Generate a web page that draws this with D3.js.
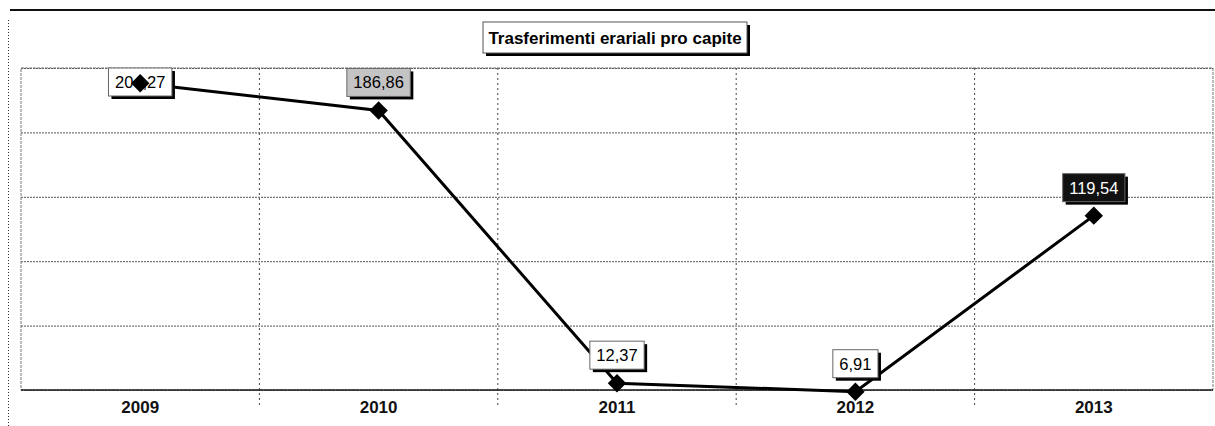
<!DOCTYPE html>
<html>
<head>
<meta charset="utf-8">
<script src="https://cdn.jsdelivr.net/npm/d3@7"></script>
<style>
  body { margin: 0; background: #fff; }
  text { font-family: "Liberation Sans", Arial, sans-serif; }
</style>
</head>
<body>
<div id="chart"></div>
<script>
// data
var years = ["2009", "2010", "2011", "2012", "2013"];
var values = [204.27, 186.86, 12.37, 6.91, 119.54];
var valueLabels = ["204,27", "186,86", "12,37", "6,91", "119,54"];
var chartTitle = "Trasferimenti erariali pro capite";
// axis range and the (hidden) gridline values
var yDomain = [8, 214];
var gridValues = [8, 49.2, 90.4, 131.6, 172.8, 214];

var W = 1215, H = 426;
var margin = {top: 68, right: 2, bottom: 36, left: 21},
    width = W - margin.left - margin.right,
    height = H - margin.top - margin.bottom;

var svg = d3.select("#chart")
  .append("svg")
    .attr("width", W)
    .attr("height", H);

// scan frame: heavy top rule and dotted left edge
svg.append("line")
  .attr("x1", 10).attr("x2", W).attr("y1", 10).attr("y2", 10)
  .style("stroke", "#111").style("stroke-width", 2);
svg.append("line")
  .attr("x1", 8.5).attr("x2", 8.5).attr("y1", 20).attr("y2", H)
  .style("stroke", "#333").style("stroke-width", 1)
  .style("stroke-dasharray", "1 2");

// title box with shadow
var tb = {x: 483, y: 22, w: 264, h: 31};
svg.append("rect")
  .attr("x", tb.x + 3).attr("y", tb.y + 3)
  .attr("width", tb.w).attr("height", tb.h)
  .attr("fill", "#000");
svg.append("rect")
  .attr("x", tb.x).attr("y", tb.y)
  .attr("width", tb.w).attr("height", tb.h)
  .attr("fill", "#fff").attr("stroke", "#555").attr("stroke-width", 1);
svg.append("text")
  .attr("x", tb.x + tb.w / 2).attr("y", tb.y + tb.h / 2 + 6)
  .attr("text-anchor", "middle")
  .attr("font-size", 17).attr("font-weight", "bold")
  .text(chartTitle);

var g = svg.append("g")
  .attr("transform", "translate(" + margin.left + "," + margin.top + ")");

var x = d3.scaleBand().domain(years).range([0, width]);
var y = d3.scaleLinear().domain(yDomain).range([height, 0]);

// horizontal gridlines
g.append("g")
  .call(d3.axisLeft(y).tickValues(gridValues).tickSize(-width).tickFormat(""))
  .call(function(a) {
    a.select(".domain").remove();
    a.selectAll(".tick line")
      .attr("stroke", "#555")
      .style("stroke-dasharray", "2 1");
  });

// vertical gridlines at category boundaries
g.selectAll(".vgrid")
  .data(years.slice(1))
  .enter().append("line")
    .attr("class", "vgrid")
    .attr("x1", function(d) { return x(d); })
    .attr("x2", function(d) { return x(d); })
    .attr("y1", 0)
    .attr("y2", height + 16)
    .style("stroke", "#444")
    .style("stroke-dasharray", "2 3");

// plot border
g.append("rect")
  .attr("width", width).attr("height", height)
  .attr("fill", "none")
  .attr("stroke", "#777").attr("stroke-width", 1)
  .style("stroke-dasharray", "3 1");
g.append("line")
  .attr("x1", 0).attr("x2", width).attr("y1", height).attr("y2", height)
  .style("stroke", "#222").style("stroke-width", 1.5);

// x axis labels
var xAxis = g.append("g")
  .attr("transform", "translate(0," + height + ")")
  .call(d3.axisBottom(x).tickSize(0).tickPadding(11));
xAxis.select(".domain").remove();
xAxis.selectAll(".tick text")
  .attr("font-size", 17)
  .attr("font-weight", "bold")
  .attr("font-family", "'Liberation Sans', Arial, sans-serif")
  .attr("fill", "#111");

var cx = function(d, i) { return x(years[i]) + x.bandwidth() / 2; };

// the line
g.append("path")
  .datum(values)
  .attr("fill", "none")
  .attr("stroke", "#000")
  .attr("stroke-width", 3)
  .attr("d", d3.line()
    .x(cx)
    .y(function(d) { return y(d); }));

// data labels (boxes with drop shadow)
var boxH = 28;
var labels = g.selectAll(".lbl")
  .data(values)
  .enter().append("g")
    .attr("class", "lbl")
    .attr("transform", function(d, i) {
      var cy = Math.max(y(d) - 28, boxH / 2);
      return "translate(" + cx(d, i) + "," + cy + ")";
    });

labels.each(function(d, i) {
  var lg = d3.select(this);
  // 186,86 came out as grey halftone, 119,54 as a black box in the scan
  var fill = i === 1 ? "#c4c4c4" : (i === 4 ? "#111" : "#fff");
  var ink = i === 4 ? "#fff" : "#000";
  var shadow = lg.append("rect").attr("fill", "#000");
  var box = lg.append("rect")
    .attr("fill", fill)
    .attr("stroke", "#666").attr("stroke-width", 1);
  var t = lg.append("text")
    .attr("text-anchor", "middle")
    .attr("y", 6)
    .attr("font-size", 16.5)
    .attr("fill", ink)
    .text(valueLabels[i]);
  var w = t.node().getComputedTextLength() + 13;
  shadow.attr("x", -w / 2 + 3).attr("y", -boxH / 2 + 3)
    .attr("width", w).attr("height", boxH);
  box.attr("x", -w / 2).attr("y", -boxH / 2)
    .attr("width", w).attr("height", boxH);
});

// diamond markers
g.selectAll(".mk")
  .data(values)
  .enter().append("path")
    .attr("class", "mk")
    .attr("d", d3.symbol().type(d3.symbolSquare).size(170))
    .attr("transform", function(d, i) {
      return "translate(" + cx(d, i) + "," + y(d) + ") rotate(45)";
    })
    .attr("fill", "#000");
</script>
</body>
</html>
